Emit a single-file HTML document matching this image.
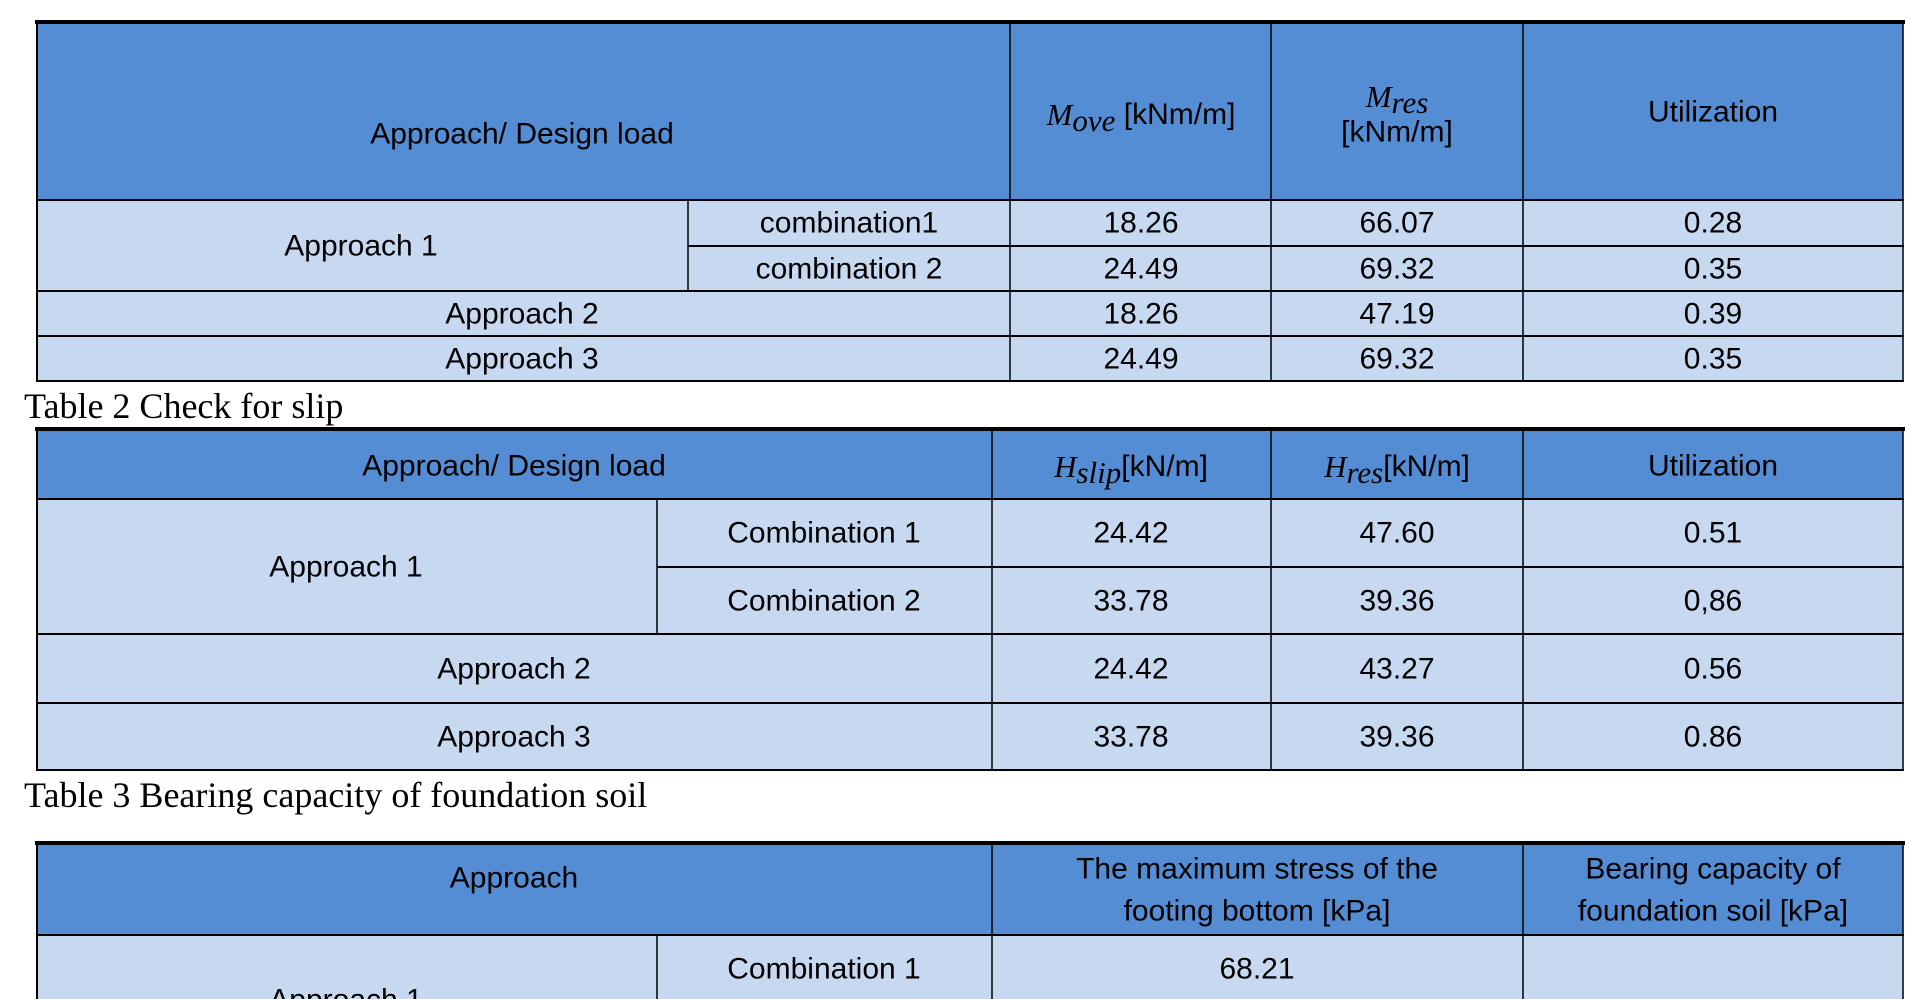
<!DOCTYPE html>
<html><head><meta charset="utf-8"><style>
html,body{margin:0;padding:0;background:#fff;width:1909px;height:999px;overflow:hidden}
svg{display:block}
.t{font-family:"Liberation Sans",sans-serif;font-size:30px;fill:#000;text-anchor:middle;dominant-baseline:central}
.m{font-family:"Liberation Serif",serif;font-style:italic;font-size:31px}
.c{font-family:"Liberation Serif",serif;font-size:36px;fill:#000}
</style></head><body>
<svg width="1909" height="999" viewBox="0 0 1909 999">
<g stroke="none">
<rect x="37" y="22" width="1866" height="178" fill="#548dd4"/>
<rect x="37" y="200" width="1866" height="181" fill="#c6d9f1"/>
<rect x="37" y="429" width="1866" height="70" fill="#548dd4"/>
<rect x="37" y="499" width="1866" height="271" fill="#c6d9f1"/>
<rect x="37" y="843" width="1866" height="92" fill="#548dd4"/>
<rect x="37" y="935" width="1866" height="64" fill="#c6d9f1"/>
</g>
<g stroke="#000" fill="none">
<line x1="35" y1="22" x2="1905" y2="22" stroke-width="4"/>
<line x1="36" y1="200" x2="1904" y2="200" stroke-width="2"/>
<line x1="688" y1="246" x2="1904" y2="246" stroke-width="2"/>
<line x1="36" y1="291" x2="1904" y2="291" stroke-width="2"/>
<line x1="36" y1="336" x2="1904" y2="336" stroke-width="2"/>
<line x1="36" y1="381" x2="1904" y2="381" stroke-width="2"/>
<line x1="37" y1="22" x2="37" y2="381" stroke-width="2"/>
<line x1="688" y1="200" x2="688" y2="291" stroke-width="1.5"/>
<line x1="1010" y1="22" x2="1010" y2="381" stroke-width="1.5"/>
<line x1="1271" y1="22" x2="1271" y2="381" stroke-width="1.5"/>
<line x1="1523" y1="22" x2="1523" y2="381" stroke-width="1.5"/>
<line x1="1903" y1="22" x2="1903" y2="381" stroke-width="1.5"/>
<line x1="35" y1="429" x2="1905" y2="429" stroke-width="4"/>
<line x1="36" y1="499" x2="1904" y2="499" stroke-width="2"/>
<line x1="657" y1="567" x2="1904" y2="567" stroke-width="2"/>
<line x1="36" y1="634" x2="1904" y2="634" stroke-width="2"/>
<line x1="36" y1="703" x2="1904" y2="703" stroke-width="2"/>
<line x1="36" y1="770" x2="1904" y2="770" stroke-width="2"/>
<line x1="37" y1="429" x2="37" y2="770" stroke-width="2"/>
<line x1="657" y1="499" x2="657" y2="634" stroke-width="1.5"/>
<line x1="992" y1="429" x2="992" y2="770" stroke-width="1.5"/>
<line x1="1271" y1="429" x2="1271" y2="770" stroke-width="1.5"/>
<line x1="1523" y1="429" x2="1523" y2="770" stroke-width="1.5"/>
<line x1="1903" y1="429" x2="1903" y2="770" stroke-width="1.5"/>
<line x1="35" y1="843" x2="1905" y2="843" stroke-width="4"/>
<line x1="36" y1="935" x2="1904" y2="935" stroke-width="2"/>
<line x1="37" y1="843" x2="37" y2="999" stroke-width="2"/>
<line x1="657" y1="935" x2="657" y2="999" stroke-width="1.5"/>
<line x1="992" y1="843" x2="992" y2="999" stroke-width="1.5"/>
<line x1="1523" y1="843" x2="1523" y2="999" stroke-width="1.5"/>
<line x1="1903" y1="843" x2="1903" y2="999" stroke-width="1.5"/>
</g>
<text class="t" x="522" y="134">Approach/ Design load</text>
<text class="t" x="1141" y="114"><tspan class="m">M</tspan><tspan class="m" font-size="23" dy="6">ove</tspan><tspan dy="-6"> [kNm/m]</tspan></text>
<text class="t" x="1397" y="96"><tspan class="m">M</tspan><tspan class="m" font-size="23" dy="6">res</tspan></text>
<text class="t" x="1397" y="132">[kNm/m]</text>
<text class="t" x="1713" y="112">Utilization</text>
<text class="t" x="361" y="246">Approach 1</text>
<text class="t" x="849" y="223">combination1</text>
<text class="t" x="849" y="269">combination 2</text>
<text class="t" x="522" y="314">Approach 2</text>
<text class="t" x="522" y="359">Approach 3</text>
<text class="t" x="1141" y="223">18.26</text><text class="t" x="1397" y="223">66.07</text><text class="t" x="1713" y="223">0.28</text>
<text class="t" x="1141" y="269">24.49</text><text class="t" x="1397" y="269">69.32</text><text class="t" x="1713" y="269">0.35</text>
<text class="t" x="1141" y="314">18.26</text><text class="t" x="1397" y="314">47.19</text><text class="t" x="1713" y="314">0.39</text>
<text class="t" x="1141" y="359">24.49</text><text class="t" x="1397" y="359">69.32</text><text class="t" x="1713" y="359">0.35</text>
<text class="c" x="24" y="418">Table 2 Check for slip</text>
<text class="t" x="514" y="466">Approach/ Design load</text>
<text class="t" x="1131" y="466"><tspan class="m">H</tspan><tspan class="m" font-size="23" dy="6">slip</tspan><tspan dy="-6">[kN/m]</tspan></text>
<text class="t" x="1397" y="466"><tspan class="m">H</tspan><tspan class="m" font-size="23" dy="6">res</tspan><tspan dy="-6">[kN/m]</tspan></text>
<text class="t" x="1713" y="466">Utilization</text>
<text class="t" x="346" y="567">Approach 1</text>
<text class="t" x="824" y="533">Combination 1</text>
<text class="t" x="824" y="601">Combination 2</text>
<text class="t" x="514" y="669">Approach 2</text>
<text class="t" x="514" y="737">Approach 3</text>
<text class="t" x="1131" y="533">24.42</text><text class="t" x="1397" y="533">47.60</text><text class="t" x="1713" y="533">0.51</text>
<text class="t" x="1131" y="601">33.78</text><text class="t" x="1397" y="601">39.36</text><text class="t" x="1713" y="601">0,86</text>
<text class="t" x="1131" y="669">24.42</text><text class="t" x="1397" y="669">43.27</text><text class="t" x="1713" y="669">0.56</text>
<text class="t" x="1131" y="737">33.78</text><text class="t" x="1397" y="737">39.36</text><text class="t" x="1713" y="737">0.86</text>
<text class="c" x="24" y="807">Table 3 Bearing capacity of foundation soil</text>
<text class="t" x="514" y="878">Approach</text>
<text class="t" x="1257" y="869">The maximum stress of the</text>
<text class="t" x="1257" y="911">footing bottom [kPa]</text>
<text class="t" x="1713" y="869">Bearing capacity of</text>
<text class="t" x="1713" y="911">foundation soil [kPa]</text>
<text class="t" x="824" y="969">Combination 1</text>
<text class="t" x="1257" y="969">68.21</text>
<text class="t" x="346" y="1000">Approach 1</text>
</svg>
</body></html>
